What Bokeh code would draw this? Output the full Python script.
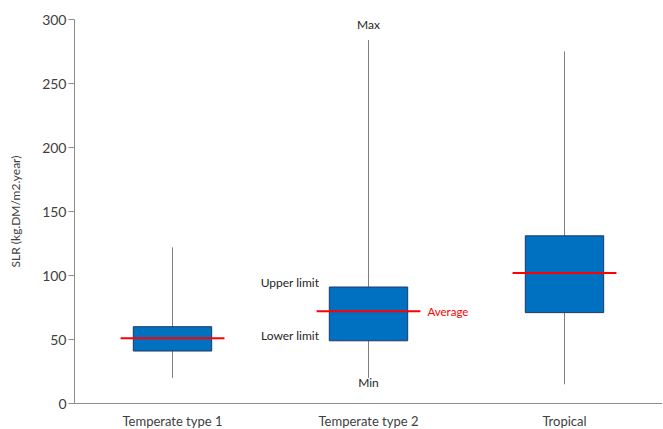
from bokeh.plotting import figure
from bokeh.models import ColumnDataSource, FixedTicker, Range1d
from bokeh.transform import dodge
from bokeh.core.properties import value
from bokeh.embed import file_html
from bokeh.resources import INLINE

categories = ["Temperate type 1", "Temperate type 2", "Tropical"]
min_vals = [20, 20, 15]
lower_vals = [41, 49, 71]
avg_vals = [51, 72, 102]
upper_vals = [60, 91, 131]
max_vals = [122, 284, 275]
y_ticks = [0, 50, 100, 150, 200, 250, 300]

FONT = "Lato"
TXT = "#404040"

src = ColumnDataSource(dict(cat=categories, mn=min_vals, lo=lower_vals,
                            avg=avg_vals, up=upper_vals, mx=max_vals))

p = figure(x_range=categories, y_range=Range1d(0, 300), frame_width=588, frame_height=384,
           output_backend="svg", toolbar_location=None,
           min_border_top=19, min_border_bottom=0, min_border_left=74, min_border_right=0)
p.outline_line_color = None
p.grid.grid_line_color = None
p.background_fill_color = "white"

# whiskers
p.segment(x0="cat", y0="mn", x1="cat", y1="mx", source=src, line_color="#7F7F7F", line_width=1)
# boxes
p.vbar(x="cat", bottom="lo", top="up", width=0.40, source=src,
       fill_color="#0070C0", line_color="#1F3864", line_width=1)
# average
p.segment(x0=dodge("cat", -0.265, range=p.x_range), y0="avg",
          x1=dodge("cat", 0.265, range=p.x_range), y1="avg",
          source=src, line_color="#FF0000", line_width=2)

# annotations on the second box
i = 1
ann = ColumnDataSource(dict(cat=[categories[i]], mn=[min_vals[i]], lo=[lower_vals[i]],
                            avg=[avg_vals[i]], up=[upper_vals[i]], mx=[max_vals[i]]))
common = dict(source=ann, text_font=value(FONT), text_font_size="12px", text_color="#262626",
              text_baseline="middle")
p.text(x="cat", y="mx", text=value("Max"), text_align="center", y_offset=-15, **common)
p.text(x="cat", y="mn", text=value("Min"), text_align="center", y_offset=5, **common)
p.text(x=dodge("cat", -0.2, range=p.x_range), y="up", text=value("Upper limit"),
       text_align="right", x_offset=-10, y_offset=-5, **common)
p.text(x=dodge("cat", -0.2, range=p.x_range), y="lo", text=value("Lower limit"),
       text_align="right", x_offset=-10, y_offset=-5, **common)
p.text(x=dodge("cat", 0.265, range=p.x_range), y="avg", text=value("Average"),
       text_align="left", x_offset=7, source=ann, text_font=value(FONT),
       text_font_size="11.5px", text_color="#FF0000", text_baseline="middle")

# axes
p.yaxis.ticker = FixedTicker(ticks=y_ticks)
p.yaxis.axis_label = "SLR (kg.DM/m2.year)"
p.yaxis.axis_label_text_font = FONT
p.yaxis.axis_label_text_font_style = "normal"
p.yaxis.axis_label_text_font_size = "12px"
p.yaxis.axis_label_text_color = TXT
p.yaxis.axis_label_standoff = 16
p.yaxis.major_label_text_font = FONT
p.yaxis.major_label_text_font_size = "14px"
p.yaxis.major_label_text_color = TXT
p.yaxis.major_label_standoff = 2
p.yaxis.major_tick_out = 6
p.yaxis.major_tick_in = 0
p.yaxis.minor_tick_line_color = None
p.yaxis.axis_line_color = "#8C8C8C"
p.yaxis.major_tick_line_color = "#8C8C8C"

p.xaxis.axis_label = None
p.xaxis.major_label_text_font = FONT
p.xaxis.major_label_text_font_size = "13px"
p.xaxis.major_label_text_color = TXT
p.xaxis.major_tick_line_color = None
p.xaxis.major_tick_out = 0
p.xaxis.major_tick_in = 0
p.xaxis.major_label_standoff = 9
p.xaxis.axis_line_color = "#8C8C8C"

open("out.html", "w").write(file_html(p, INLINE))
